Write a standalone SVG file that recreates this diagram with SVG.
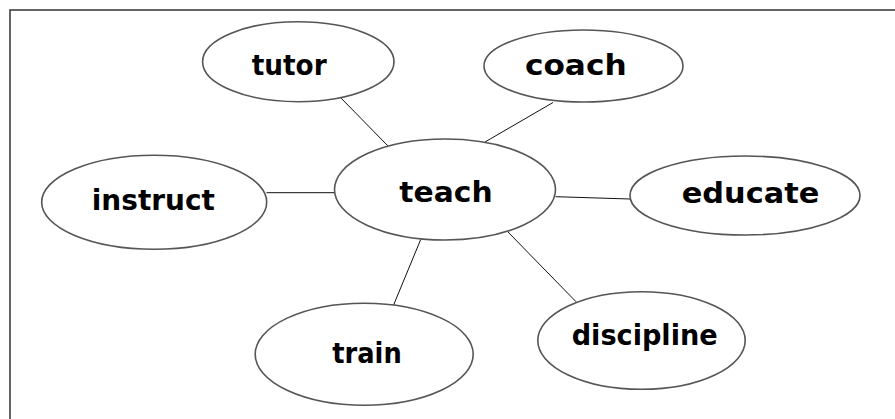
<svg xmlns="http://www.w3.org/2000/svg" width="895" height="419" viewBox="0 0 895 419">
<style>
.node ellipse{fill:#fff;stroke:#555;stroke-width:1.6}
.node text{font-family:"DejaVu Sans",sans-serif;font-weight:bold;font-size:28px;fill:#000;text-anchor:middle}
#connectors line{stroke:#111;stroke-width:1}
.frame{stroke:#333;stroke-width:1.5;fill:none}
</style>
<rect width="895" height="419" fill="#fff"/>
<path class="frame" d="M10,419 V10 H895"/>
<g id="connectors">
<line x1="340" y1="97" x2="388" y2="146"/>
<line x1="553" y1="102.5" x2="485" y2="142"/>
<line x1="266.5" y1="192.7" x2="334.5" y2="192.7"/>
<line x1="555.5" y1="196.7" x2="630" y2="199"/>
<line x1="420.7" y1="239.5" x2="393.3" y2="305.7"/>
<line x1="507.7" y1="231.7" x2="576" y2="301.7"/>
</g>
<g id="tutor" class="node"><ellipse cx="298.3" cy="61.7" rx="95.7" ry="40"/><text x="289.2" y="75" textLength="75" lengthAdjust="spacingAndGlyphs">tutor</text></g>
<g id="coach" class="node"><ellipse cx="583.5" cy="66" rx="99.5" ry="36"/><text x="575.8" y="75" textLength="101.7" lengthAdjust="spacingAndGlyphs">coach</text></g>
<g id="instruct" class="node"><ellipse cx="154.2" cy="202.2" rx="112.5" ry="47"/><text x="153.3" y="210" textLength="123" lengthAdjust="spacingAndGlyphs">instruct</text></g>
<g id="teach" class="node"><ellipse cx="445" cy="189.5" rx="110.5" ry="50.5"/><text x="446" y="201.7" textLength="93.3" lengthAdjust="spacingAndGlyphs">teach</text></g>
<g id="educate" class="node"><ellipse cx="745" cy="195.5" rx="115" ry="39.5"/><text x="750.5" y="203.3" textLength="137.6" lengthAdjust="spacingAndGlyphs">educate</text></g>
<g id="train" class="node"><ellipse cx="364.2" cy="354.2" rx="109" ry="51"/><text x="367" y="363.3" textLength="69.4" lengthAdjust="spacingAndGlyphs">train</text></g>
<g id="discipline" class="node"><ellipse cx="641.5" cy="340.5" rx="103.7" ry="48.8"/><text x="644.7" y="345" textLength="146" lengthAdjust="spacingAndGlyphs">discipline</text></g>
</svg>
